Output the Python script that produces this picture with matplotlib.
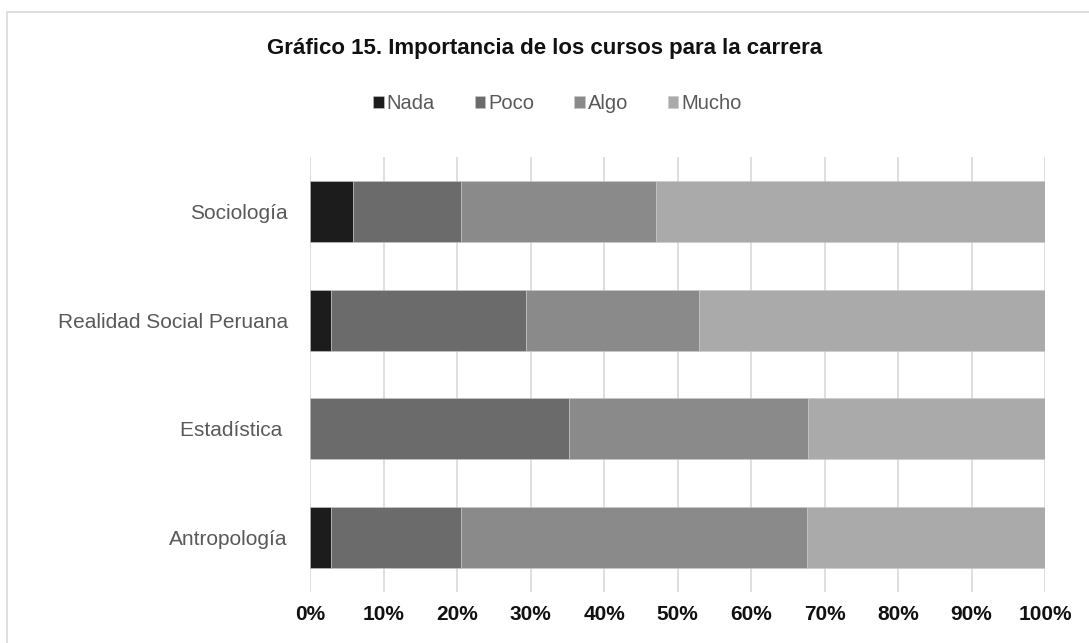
import numpy as np
import matplotlib.pyplot as plt
from matplotlib.patches import Rectangle

# ----------------------------
# DATA (shares of 34 answers, %)
# ----------------------------
cursos = ["Sociología", "Realidad Social Peruana", "Estadística ", "Antropología"]
nada = [5.9, 2.9, 0.0, 2.9]
poco = [14.7, 26.5, 35.3, 17.6]
algo = [26.5, 23.5, 32.4, 47.1]
mucho = [52.9, 47.1, 32.3, 32.4]

series = ["Nada", "Poco", "Algo", "Mucho"]
colores = ["#1c1c1c", "#6b6b6b", "#8a8a8a", "#aaaaaa"]

plt.rcParams["font.family"] = ["Liberation Sans", "DejaVu Sans"]

fig = plt.figure(figsize=(10.89, 6.43), dpi=100)
ax = fig.add_axes([0.2847, 0.0793, 0.6749, 0.6765])

# outer chart frame (partially cropped like the reference)
fig.patches.append(Rectangle((7 / 1089, -0.05), 1.2, (643 - 12) / 643 + 0.05,
                             transform=fig.transFigure, fill=False,
                             edgecolor="#d9d9d9", linewidth=1.2))

y = np.arange(len(cursos))[::-1]
left = np.zeros(len(cursos))
for nombre, vals, c in zip(series, [nada, poco, algo, mucho], colores):
    ax.barh(y, vals, left=left, height=0.56, color=c, label=nombre,
            edgecolor="#c8c8c8", linewidth=0.4, zorder=3)
    left += np.array(vals)

ax.set_xlim(0, 100)
ax.set_ylim(-0.5, len(cursos) - 0.5)
ax.set_xticks(np.arange(0, 101, 10))
ax.set_xticklabels([f"{v}%" for v in range(0, 101, 10)],
                   fontsize=15, fontweight="bold", color="#111111")
ax.set_yticks(y)
ax.set_yticklabels(cursos, fontsize=15, color="#595959")
ax.tick_params(length=0, pad=9)
ax.tick_params(axis="y", pad=16)
ax.grid(axis="x", color="#d9d9d9", linewidth=1.2, zorder=0)
for s in ax.spines.values():
    s.set_visible(False)

fig.text(0.5, 0.925, "Gráfico 15. Importancia de los cursos para la carrera",
         ha="center", va="center", fontsize=16, fontweight="bold",
         color="#111111")
fig.legend(loc="center", bbox_to_anchor=(0.512, 0.839), ncol=4, frameon=False,
           fontsize=14.5, handlelength=0.5, handleheight=0.5, handletextpad=0.15,
           columnspacing=2.0, labelcolor="#595959")

fig.savefig("out.png", dpi=100)
